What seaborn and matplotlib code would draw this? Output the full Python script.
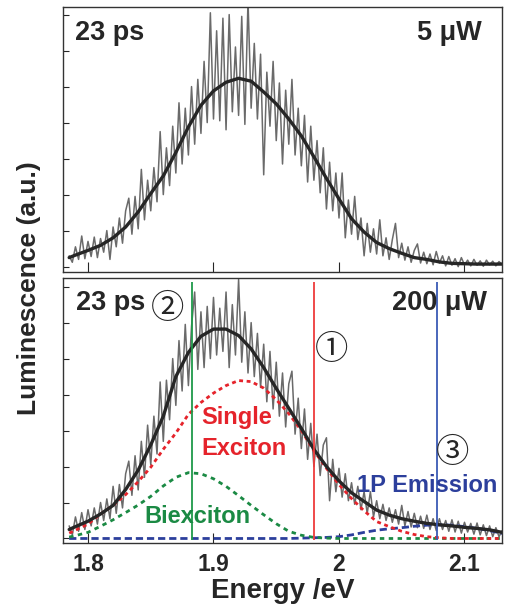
import matplotlib
matplotlib.use("Agg")
import matplotlib.pyplot as plt
import pandas as pd
import seaborn as sns

# energy grid of the measured spectra (eV) and of the fitted curves
energy_raw = [round(1.785 + 0.0025 * i, 4) for i in range(139)]
energy_fit = [1.785, 1.79, 1.80, 1.81, 1.82, 1.83, 1.84, 1.85, 1.86, 1.87, 1.88, 1.89,
              1.90, 1.91, 1.92, 1.93, 1.94, 1.95, 1.96, 1.97, 1.98, 1.99, 2.00, 2.01,
              2.02, 2.03, 2.04, 2.05, 2.06, 2.07, 2.08, 2.09, 2.10, 2.11, 2.12, 2.13]

# 5 uW spectrum (top panel)
raw_5uw = [0.30, 0.12, 0.55, 0.20, 0.85, 0.22, 0.70, 0.28, 0.82, 0.25,
           0.78, 0.40, 1.00, 0.20, 1.10, 0.55, 1.35, 0.65, 1.55, 1.90,
           0.90, 1.95, 1.05, 2.70, 1.30, 2.40, 1.55, 2.75, 1.80, 3.75,
           2.00, 3.30, 2.25, 3.90, 2.60, 4.55, 2.85, 4.40, 3.10, 5.00,
           3.40, 5.20, 3.70, 5.70, 4.00, 7.05, 4.10, 6.55, 4.05, 6.90,
           3.80, 7.00, 4.30, 6.10, 4.20, 6.95, 3.95, 7.40, 4.40, 6.20,
           4.10, 5.90, 2.55, 5.40, 3.90, 5.70, 3.50, 5.10, 2.85, 4.90,
           3.40, 5.20, 3.10, 4.40, 2.80, 4.20, 2.35, 3.90, 2.40, 3.50,
           2.05, 3.30, 1.60, 2.90, 1.55, 2.60, 1.35, 2.60, 0.80, 1.85,
           0.90, 1.95, 0.75, 1.35, 0.30, 1.20, 0.40, 1.05, 0.35, 1.30,
           0.30, 0.80, 0.20, 0.75, 1.20, 0.25, 0.65, 0.18, 0.55, 0.12,
           0.45, 0.63, 0.10, 0.40, 0.08, 0.35, 0.05, 0.42, 0.10, 0.30,
           0.02, 0.28, 0.04, 0.22, 0.00, 0.25, 0.05, 0.18, 0.02, 0.20,
           0.04, 0.16, 0.01, 0.18, 0.05, 0.15, 0.02, 0.14, 0.06]
fit_5uw = [0.25, 0.32, 0.45, 0.59, 0.80, 1.10, 1.52, 2.03, 2.52, 3.17, 3.88, 4.48,
           4.88, 5.12, 5.23, 5.15, 4.85, 4.52, 4.10, 3.63, 3.05, 2.45, 1.88, 1.33,
           0.96, 0.67, 0.50, 0.37, 0.25, 0.20, 0.13, 0.09, 0.08, 0.07, 0.07, 0.07]

# 200 uW spectrum (bottom panel) and its three components
raw_200uw = [0.35, 0.10, 0.60, 0.20, 0.72, 0.25, 0.80, 0.35, 0.85, 0.40,
             1.00, 0.50, 1.10, 0.55, 1.45, 0.70, 1.50, 0.85, 1.80, 2.15,
             1.20, 2.30, 1.35, 2.70, 1.70, 3.15, 2.05, 3.40, 2.35, 4.35,
             2.70, 4.40, 3.30, 5.00, 3.70, 5.50, 4.10, 5.95, 4.25, 5.90,
             6.85, 4.70, 6.30, 4.75, 6.45, 5.00, 6.70, 5.10, 6.40, 5.20,
             6.85, 4.75, 6.50, 5.10, 7.20, 4.90, 6.30, 4.60, 6.00, 4.50,
             5.70, 4.20, 5.40, 3.80, 5.20, 3.60, 4.90, 3.40, 4.60, 3.10,
             4.30, 4.65, 2.90, 3.90, 2.50, 3.60, 2.20, 3.20, 2.00, 2.90,
             1.75, 2.60, 2.80, 1.05, 2.20, 1.30, 1.95, 1.15, 1.80, 1.05,
             1.55, 0.95, 1.45, 0.80, 1.30, 0.70, 1.30, 0.60, 1.05, 0.55,
             0.95, 0.50, 0.85, 0.45, 0.80, 0.40, 0.92, 0.35, 0.75, 0.32,
             0.70, 0.30, 0.62, 0.28, 0.65, 0.25, 0.55, 0.22, 0.55, 0.25,
             0.50, 0.20, 0.52, 0.18, 0.48, 0.15, 0.45, 0.18, 0.42, 0.12,
             0.43, 0.10, 0.38, 0.08, 0.35, 0.05, 0.30, 0.05, 0.22]
fit_200uw = [0.25, 0.33, 0.48, 0.68, 0.92, 1.36, 1.90, 2.60, 3.40, 4.50, 5.17, 5.62,
             5.82, 5.82, 5.64, 5.27, 4.75, 4.17, 3.62, 3.06, 2.48, 2.00, 1.60, 1.27,
             1.03, 0.79, 0.65, 0.55, 0.48, 0.42, 0.38, 0.35, 0.31, 0.28, 0.24, 0.17]
single_exciton = [0.15, 0.23, 0.40, 0.68, 0.92, 1.22, 1.58, 1.98, 2.48, 2.93, 3.45, 3.78,
                  4.04, 4.25, 4.39, 4.36, 4.18, 3.86, 3.47, 3.00, 2.44, 1.95, 1.50, 1.11,
                  0.77, 0.47, 0.33, 0.20, 0.11, 0.05, 0.02, 0.0, 0.0, 0.0, 0.0, 0.0]
biexciton = [0.04, 0.08, 0.17, 0.34, 0.52, 0.72, 0.93, 1.17, 1.46, 1.70, 1.83, 1.80,
             1.66, 1.45, 1.19, 0.92, 0.66, 0.41, 0.20, 0.09, 0.03, 0.01, 0.0, 0.0,
             0.0, 0.0, 0.0, 0.0, 0.0, 0.0, 0.0, 0.0, 0.0, 0.0, 0.0, 0.0]
emission_1p = [0.0, 0.0, 0.0, 0.0, 0.0, 0.0, 0.0, 0.0, 0.0, 0.0, 0.0, 0.0,
               0.0, 0.0, 0.0, 0.0, 0.0, 0.0, 0.0, 0.01, 0.02, 0.03, 0.05, 0.10,
               0.17, 0.23, 0.27, 0.30, 0.34, 0.37, 0.38, 0.37, 0.33, 0.28, 0.22, 0.14]

# marker energies: (1) single exciton, (2) biexciton, (3) 1P emission
marker_energy = [1.980, 1.883, 2.078]
marker_labels = ["\u2460", "\u2461", "\u2462"]

RED, GREEN, BLUE = "#e5232b", "#1b8a44", "#2c3f9c"
RAW_GREY, FIT_BLACK = "#6a6a6a", "#262626"

sns.set_theme(style="ticks")
plt.rcParams["font.family"] = ["Liberation Sans", "DejaVu Sans"]
plt.rcParams["font.weight"] = "bold"

fig = plt.figure(figsize=(5.05, 6.05), dpi=100)
ax_top = fig.add_axes([0.1248, 0.5504, 0.8693, 0.4380])
ax_bot = fig.add_axes([0.1248, 0.1025, 0.8693, 0.4380])

df_raw = pd.DataFrame({"E": energy_raw, "low": raw_5uw, "high": raw_200uw})
df_fit = pd.DataFrame({"E": energy_fit, "low": fit_5uw, "high": fit_200uw,
                       "sx": single_exciton, "bx": biexciton, "p1": emission_1p})

line_kw = dict(sort=False, estimator=None)

# top panel: raw trace + fit
sns.lineplot(data=df_raw, x="E", y="low", ax=ax_top, color=RAW_GREY, lw=1.1, **line_kw)
sns.lineplot(data=df_fit, x="E", y="low", ax=ax_top, color=FIT_BLACK, lw=2.4, **line_kw)

# bottom panel: raw trace, components, then the total fit on top
sns.lineplot(data=df_raw, x="E", y="high", ax=ax_bot, color=RAW_GREY, lw=1.1, **line_kw)
for col, colour, dash in [("p1", BLUE, (2.6, 1.4)), ("bx", GREEN, (1.6, 1.6)),
                          ("sx", RED, (1.4, 1.3))]:
    sns.lineplot(data=df_fit, x="E", y=col, ax=ax_bot, color=colour, lw=2.0, **line_kw)
    ax_bot.lines[-1].set_dashes(dash)
sns.lineplot(data=df_fit, x="E", y="high", ax=ax_bot, color=FIT_BLACK, lw=2.4, **line_kw)

ax_bot.vlines(marker_energy, -0.05, 7.12, colors=["#ee3b3b", "#1f9a4a", "#3a5ab5"],
              lw=1.3, zorder=3)

circ_kw = dict(fontsize=24, fontweight="normal", ha="center", va="center",
               family=["Noto Sans CJK JP", "DejaVu Sans"])
ax_bot.text(1.9942, 5.26, marker_labels[0], **circ_kw)
ax_bot.text(1.8632, 6.39, marker_labels[1], **circ_kw)
ax_bot.text(2.0906, 2.39, marker_labels[2], **circ_kw)

lab_kw = dict(fontsize=17, fontweight="bold", ha="left", va="baseline")
ax_bot.text(1.8906, 3.18, "Single", color=RED, **lab_kw)
ax_bot.text(1.8906, 2.32, "Exciton", color=RED, **lab_kw)
ax_bot.text(1.8446, 0.42, "Biexciton", color=GREEN, **lab_kw)
ax_bot.text(2.0141, 1.30, "1P Emission", color=BLUE, **lab_kw)

corner_kw = dict(fontsize=19.5, fontweight="bold", va="baseline")
ax_top.text(0.027, 0.875, "23 ps", transform=ax_top.transAxes, ha="left", **corner_kw)
ax_top.text(0.954, 0.875, "5 \u03bcW", transform=ax_top.transAxes, ha="right", **corner_kw)
ax_bot.text(0.029, 0.879, "23 ps", transform=ax_bot.transAxes, ha="left", **corner_kw)
ax_bot.text(0.965, 0.879, "200 \u03bcW", transform=ax_bot.transAxes, ha="right", **corner_kw)

for ax in (ax_top, ax_bot):
    ax.set_xlim(1.7801, 2.1299)
    ax.set_xticks([1.8, 1.9, 2.0, 2.1])
    ax.set_yticks(range(8))
    ax.set_yticklabels([])
    ax.set_xlabel("")
    ax.set_ylabel("")
    ax.tick_params(axis="y", direction="in", length=4, width=0.8, left=True)
    ax.tick_params(axis="x", direction="in", length=7, width=0.8, bottom=True)
    for s in ax.spines.values():
        s.set_visible(True)
        s.set_linewidth(1.0)
        s.set_color("#333333")

ax_top.set_ylim(-0.15, 7.21)
ax_bot.set_ylim(-0.125, 7.24)
ax_top.set_xticklabels([])
ax_bot.set_xticklabels(["1.8", "1.9", "2", "2.1"], fontsize=16.5, fontweight="bold")
ax_bot.tick_params(axis="x", pad=7)
ax_bot.set_xlabel("Energy /eV", fontsize=20, fontweight="bold", labelpad=2)

fig.text(0.057, 0.524, "Luminescence (a.u.)", rotation=90, ha="center", va="center",
         fontsize=19, fontweight="bold")

fig.savefig("out.png", dpi=100)
